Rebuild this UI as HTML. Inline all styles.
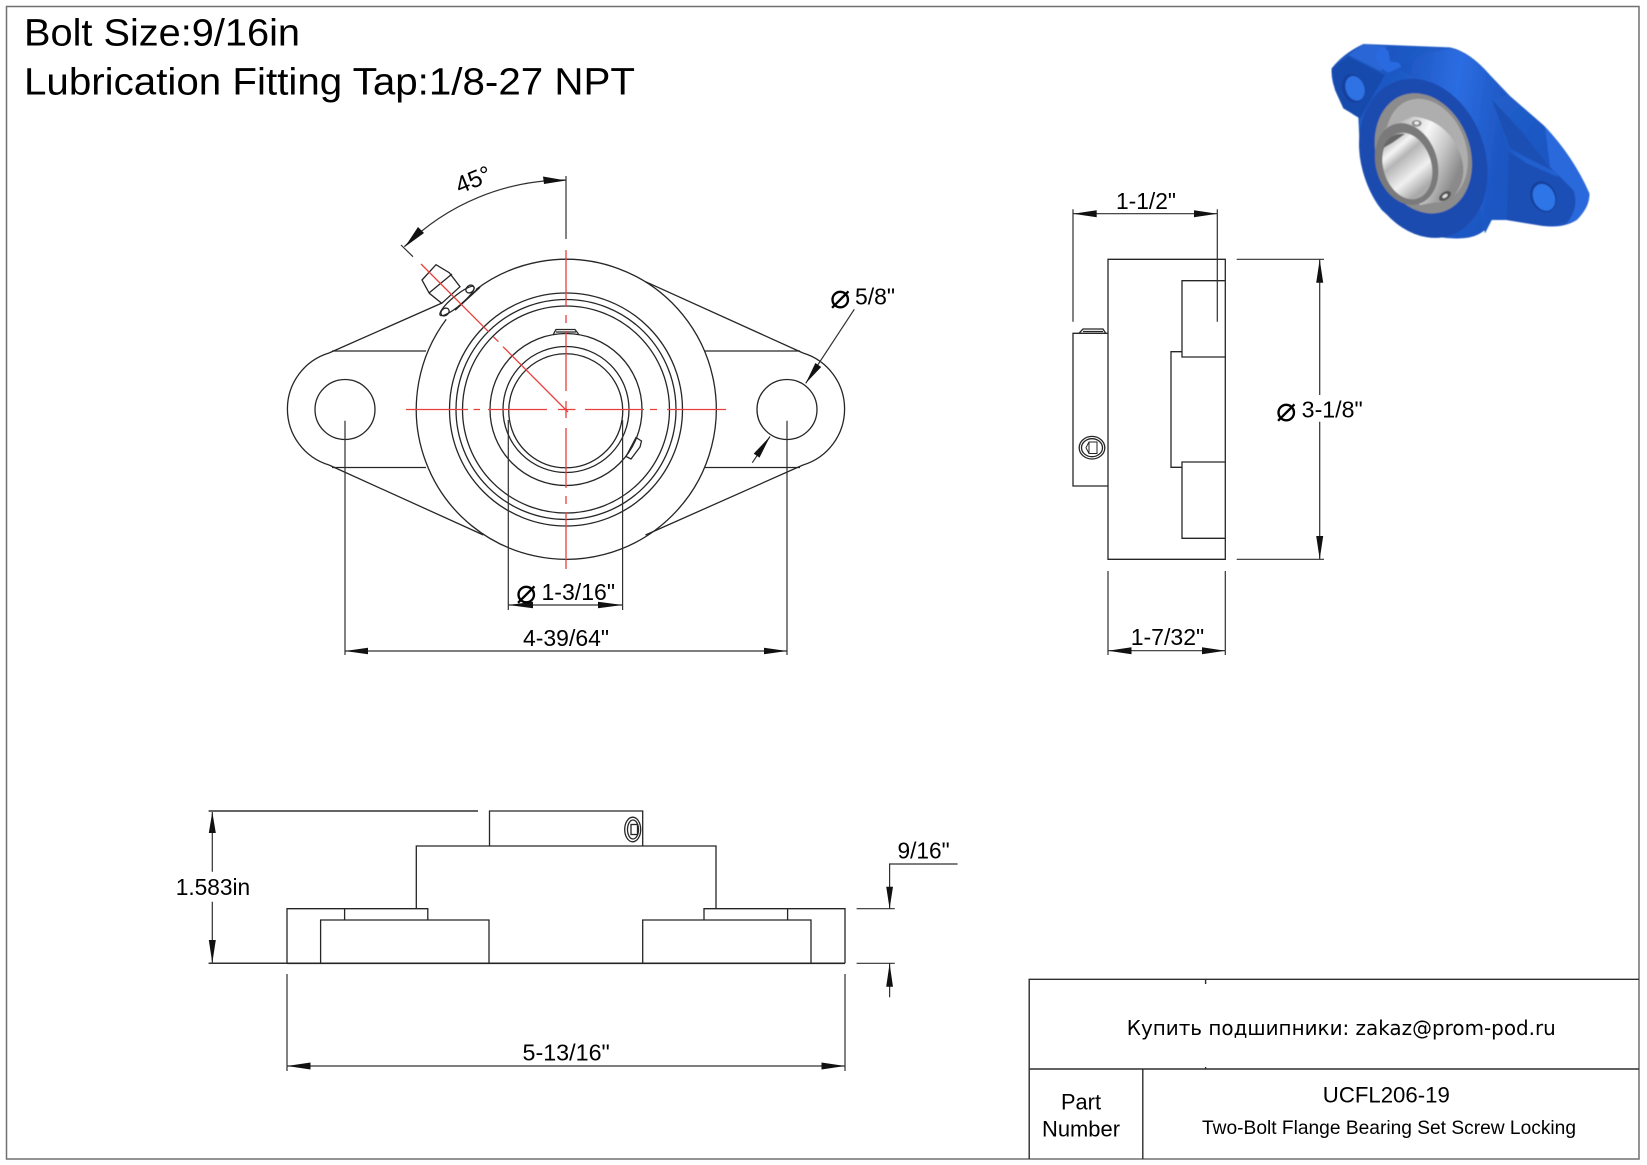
<!DOCTYPE html>
<html><head><meta charset="utf-8"><style>
html,body{margin:0;padding:0;background:#fff}
svg{display:block}
text{font-family:"Liberation Sans",sans-serif;fill:#000}
.l{fill:none;stroke:#262626;stroke-width:1.3}
.k{fill:none;stroke:#303030;stroke-width:1.2}
.r{fill:none;stroke:#e8403c;stroke-width:1.3}
.a{fill:#111;stroke:none}
.d{font-size:23px}
.p{font-family:"DejaVu Sans",sans-serif;font-size:34px;font-weight:200}
</style></head><body>
<svg width="1647" height="1165" viewBox="0 0 1647 1165" xmlns="http://www.w3.org/2000/svg">
<rect width="1647" height="1165" fill="#fff"/>
<rect x="6.5" y="6.5" width="1632.5" height="1152.5" fill="none" stroke="#707070" stroke-width="1.5"/>

<text x="24" y="45.5" font-size="38" textLength="276" lengthAdjust="spacingAndGlyphs">Bolt Size:9/16in</text>
<text x="24" y="94.5" font-size="38" textLength="611" lengthAdjust="spacingAndGlyphs">Lubrication Fitting Tap:1/8-27 NPT</text>

<!-- FRONT VIEW -->
<g class="l">
<path d="M476 289.5A150 150 0 1 1 446.2 319.4"/>
<path d="M329 353A58.5 58.5 0 0 0 329 465"/>
<path d="M803 353A58.5 58.5 0 0 1 803 465"/>
<path d="M329 353L442 303M329 465L483.4 535M645.5 281.7L803 353M645.5 535L803 465"/>
<path d="M332 351H426M332 467.5H426M705 351H800M705 467.5H800"/>
<circle cx="345" cy="409.5" r="30"/>
<circle cx="787" cy="409.5" r="30"/>
<circle cx="566" cy="409.5" r="116.5"/>
<circle cx="566" cy="409.5" r="110"/>
<circle cx="566" cy="409.5" r="103.5"/>
<circle cx="566" cy="409.5" r="76"/>
<circle cx="566" cy="409.5" r="63"/>
<path d="M509.5 420A57 57 0 1 1 622 420"/>
<path d="M509.5 420A57 57 0 0 0 622 420" />
<path d="M553.5 334L556 329.5H575L578.5 334M556 332H576"/>
<path d="M626 456.5L636 437.5L641.5 441L640 447L631 459Z"/>
<path d="M422 280L436 264.7L449.3 272.7L460 286.7L441.7 303.3L429.3 293.3Z"/>
<path d="M452 274L429 293"/>
<ellipse cx="457" cy="301" rx="22" ry="5" transform="rotate(-40 457 301)" fill="#fff"/>
<ellipse cx="470" cy="289" rx="4.5" ry="3.5" transform="rotate(-40 470 289)"/>
<ellipse cx="445" cy="312" rx="4.5" ry="3.5" transform="rotate(-40 445 312)"/>
<path d="M455 310L480 287" stroke-width="1.8"/>
</g>
<g class="r">
<path d="M406 409.5H468M473.5 409.5H480M488 409.5H547M558 409.5H575.5M585 409.5H644M650 409.5H657M667 409.5H726"/>
<path d="M566 250V307M566 315V323M566 331V391M566 401V418M566 428V488M566 496V504M566 512V569"/>
<path d="M421 264L488.5 331.7M493.3 336.7L498.4 341.7M503 346.7L568 412"/>
</g>
<!-- front dims -->
<g class="k">
<path d="M566 176V239"/>
<path d="M566 180A229.5 229.5 0 0 0 404.3 246.7"/>
<path d="M401 245L413 256.7"/>
<path d="M508.3 420V610M622.6 420V610M508.3 605H622.6"/>
<path d="M345 420.7V655M787 420.7V655M345 651H787"/>
<path d="M854.3 309.3L805.7 383.3M752.3 462.7L770 436.5"/>
</g>
<polygon class="a" points="566,180.5 543,176.5 544,184"/>
<polygon class="a" points="405,246.7 418,227 424,233"/>
<polygon class="a" points="508.3,605 533,601.7 533,608.3"/>
<polygon class="a" points="622.6,605 598,601.7 598,608.3"/>
<polygon class="a" points="345,651 368,647.7 368,654.3"/>
<polygon class="a" points="787,651 764,647.7 764,654.3"/>
<polygon class="a" points="805.7,383.3 821.2,367 815.4,363"/>
<polygon class="a" points="770,436.5 759.5,457.6 753.7,453.6"/>
<text transform="translate(459.5 194) rotate(-22)" font-size="24">45°</text>
<text class="p" x="516" y="603">⌀</text>
<text class="d" x="541.5" y="600" textLength="73.5" lengthAdjust="spacingAndGlyphs">1-3/16"</text>
<text class="d" x="523" y="646" textLength="86" lengthAdjust="spacingAndGlyphs">4-39/64"</text>
<text class="p" x="830" y="308">⌀</text>
<text class="d" x="855" y="304.5" textLength="40" lengthAdjust="spacingAndGlyphs">5/8"</text>

<!-- SIDE VIEW -->
<g class="l">
<path d="M1108 259.3H1225.3V559.3H1108Z"/>
<path d="M1225 280.7H1182V357H1225M1182 351.7H1171V467.3H1182M1225 462H1182V538.3H1225"/>
<path d="M1108 333.3H1073V486H1108"/>
<path d="M1079.3 333L1083 329H1103L1105.5 333M1083 331.5H1103"/>
<ellipse cx="1092" cy="447.7" rx="12.8" ry="11.3"/>
<ellipse cx="1092" cy="447.7" rx="10.5" ry="9"/>
<path d="M1086 447.7L1089 442H1097V453.5H1089ZM1089 442V453.5" stroke-width="1"/>
</g>
<g class="k">
<path d="M1073 209.3V321.7M1217.3 209.3V321.7M1073 213.7H1217.3"/>
<path d="M1236.7 259.3H1324M1236.7 559.3H1324M1319.7 259.3V395M1319.7 421.7V559.3"/>
<path d="M1108 571V655M1225.3 571V655M1108 650.7H1225.3"/>
</g>
<polygon class="a" points="1073,213.7 1096.7,210.2 1096.7,217.2"/>
<polygon class="a" points="1217.3,213.7 1194,210.2 1194,217.2"/>
<polygon class="a" points="1319.7,259.5 1316.2,282.7 1323.2,282.7"/>
<polygon class="a" points="1319.7,559.2 1316.2,536 1323.2,536"/>
<polygon class="a" points="1108,650.7 1131.5,647.2 1131.5,654.2"/>
<polygon class="a" points="1225.3,650.7 1202,647.2 1202,654.2"/>
<text class="d" x="1116" y="209" textLength="60" lengthAdjust="spacingAndGlyphs">1-1/2"</text>
<text class="p" x="1276" y="421">⌀</text>
<text class="d" x="1301.7" y="417.3" textLength="61" lengthAdjust="spacingAndGlyphs">3-1/8"</text>
<text class="d" x="1130.7" y="645" textLength="73.5" lengthAdjust="spacingAndGlyphs">1-7/32"</text>

<!-- BOTTOM VIEW -->
<g class="l">
<path d="M489.5 846V811H642.7V846"/>
<path d="M416.3 908.7V846H716V908.7"/>
<path d="M287 963.3V908.7H427.8V920M845 963.3V908.7H704V920M344.6 908.7V920M787.6 908.7V920"/>
<path d="M320.6 963.3V920H489V963.3M642.7 963.3V920H811V963.3"/>
<path d="M845 963.3H287" stroke-width="1.6"/>
<ellipse cx="632.7" cy="829.5" rx="8" ry="12.3"/>
<ellipse cx="633" cy="829.5" rx="5.5" ry="9.5"/>
<rect x="631" y="824.5" width="6.5" height="10"/>
</g>
<g class="k">
<path d="M208.6 811H478M208.6 963.3H287" stroke-width="1.5"/>
<path d="M212.3 812V871.7M212.3 901.7V963"/>
<path d="M287 974V1071M845 974V1071M287 1066H845"/>
<path d="M957.6 864H889.6V908.7M856.6 908.7H894.8M856.6 963.3H894.8M889.6 963.3V997.3"/>
</g>
<polygon class="a" points="212.3,812 208.8,833 215.8,833"/>
<polygon class="a" points="212.3,963 208.8,940 215.8,940"/>
<polygon class="a" points="287,1066 310.5,1062.5 310.5,1069.5"/>
<polygon class="a" points="845,1066 821.5,1062.5 821.5,1069.5"/>
<polygon class="a" points="889.6,908.7 886.2,886.7 893,886.7"/>
<polygon class="a" points="889.6,963.5 886.2,986.7 893,986.7"/>
<text class="d" x="175.7" y="895" textLength="74.5" lengthAdjust="spacingAndGlyphs">1.583in</text>
<text class="d" x="522.5" y="1060.7" textLength="87.3" lengthAdjust="spacingAndGlyphs">5-13/16"</text>
<text class="d" x="897.5" y="858.3" textLength="52.2" lengthAdjust="spacingAndGlyphs">9/16"</text>

<!-- TITLE BLOCK -->
<g fill="none" stroke="#2e2e2e" stroke-width="1.4">
<path d="M1639 979.3H1029.2V1159M1029.2 1069H1639M1142.8 1069V1159M1205.6 979.3V984M1205.6 1067V1069"/>
</g>
<text x="1126.8" y="1035" font-size="20" style="font-family:'DejaVu Sans',sans-serif" textLength="429" lengthAdjust="spacingAndGlyphs">Купить подшипники: zakaz@prom-pod.ru</text>
<text x="1322.8" y="1102.3" font-size="22" textLength="127" lengthAdjust="spacingAndGlyphs">UCFL206-19</text>
<text x="1202" y="1134" font-size="19.5" textLength="374" lengthAdjust="spacingAndGlyphs">Two-Bolt Flange Bearing Set Screw Locking</text>
<text x="1061" y="1109.3" font-size="22.5" textLength="40" lengthAdjust="spacingAndGlyphs">Part</text>
<text x="1042" y="1136.7" font-size="22.5" textLength="78" lengthAdjust="spacingAndGlyphs">Number</text>

<!-- 3D RENDER -->
<defs>
<linearGradient id="bl" x1="0" y1="0" x2="1" y2="0.6">
<stop offset="0" stop-color="#1a4fb8"/><stop offset=".45" stop-color="#2362cf"/><stop offset="1" stop-color="#1b53bd"/>
</linearGradient>
<linearGradient id="cy" x1="0" y1="0" x2="1" y2="0.25">
<stop offset="0" stop-color="#1b52bb"/><stop offset=".55" stop-color="#2c6de2"/><stop offset="1" stop-color="#1d56c2"/>
</linearGradient>
<linearGradient id="sv" x1="0" y1="0" x2="1" y2="0.5">
<stop offset="0" stop-color="#9a9a9a"/><stop offset=".5" stop-color="#f7f7f7"/><stop offset=".75" stop-color="#c6c6c6"/><stop offset="1" stop-color="#8a8a8a"/>
</linearGradient>
<linearGradient id="bo" x1="0" y1="0" x2="0.3" y2="1">
<stop offset="0" stop-color="#8a8a8a"/><stop offset=".3" stop-color="#f5f5f5"/><stop offset=".45" stop-color="#b5b5b5"/><stop offset=".75" stop-color="#f0f0f0"/><stop offset="1" stop-color="#aaa"/>
</linearGradient>
<filter id="bf"><feGaussianBlur stdDeviation="1.4"/></filter>
</defs>
<g transform="translate(1310 20) scale(.33333)" filter="url(#bf)">
<path fill="url(#bl)" d="M65 145Q100 100 160 72L420 82Q480 95 540 165L600 228L700 315Q790 410 838 520Q840 560 800 600Q760 625 700 618L590 600L545 600Q520 660 430 655Q300 650 215 570Q160 500 150 400L145 292Q100 270 80 220Q62 180 65 145Z"/>
<path fill="url(#cy)" d="M260 140L350 100L420 85Q480 98 540 168L590 225L545 240L600 400L590 590L545 600L525 640L480 400L380 220Z"/>
<path fill="#1c4fb3" d="M545 238L640 340L725 450L600 385Z"/>
<path fill="#2260cf" d="M600 390L725 450L770 440L740 470L650 430Z"/>
<path fill="#1b50b6" d="M595 395L650 430L740 470L790 480L800 600L700 618L590 600Z"/>
<path fill="#2a69dc" d="M705 320Q790 410 838 520Q840 560 800 600L770 610Q810 560 790 510L720 440Z"/>
<path fill="#194bad" d="M65 145L115 110L225 165L150 295L100 265L75 210Z"/>
<path fill="#2a66d6" d="M115 105L160 72L230 80L215 155Z"/>
<ellipse cx="340" cy="415" rx="185" ry="245" transform="rotate(-20 340 415)" fill="#1a4cb0"/>
<ellipse cx="130" cy="205" rx="34" ry="44" transform="rotate(-20 130 205)" fill="#14409c"/>
<ellipse cx="135" cy="205" rx="28" ry="38" transform="rotate(-20 135 205)" fill="#2d72e4"/>
<ellipse cx="700" cy="530" rx="38" ry="48" transform="rotate(-25 700 530)" fill="#143f9a"/>
<ellipse cx="702" cy="532" rx="32" ry="42" transform="rotate(-25 702 532)" fill="#2e74e8"/>
<path fill="#2a6be0" d="M195 105L210 82L235 92L240 125L265 128L275 140L235 158L222 150L205 130Z"/>
<ellipse cx="340" cy="400" rx="140" ry="185" transform="rotate(-20 340 400)" fill="#8c8c8c"/>
<ellipse cx="350" cy="392" rx="118" ry="160" transform="rotate(-20 350 392)" fill="#aeaeae"/>
<path fill="url(#sv)" d="M225 325L310 290Q410 300 450 400Q480 480 420 540L330 555L260 480Z"/>
<ellipse cx="290" cy="432" rx="92" ry="125" transform="rotate(-17 290 432)" fill="#7a7a7a"/>
<ellipse cx="292" cy="438" rx="72" ry="102" transform="rotate(-17 292 438)" fill="url(#bo)"/>
<path fill="#666" d="M218 385Q240 335 285 342L248 368Z"/>
<ellipse cx="320" cy="310" rx="15" ry="10" fill="#8a8a8a"/>
<ellipse cx="320" cy="309" rx="7" ry="5" fill="#eee"/>
<ellipse cx="405" cy="528" rx="20" ry="12" transform="rotate(-35 405 528)" fill="#555"/>
<ellipse cx="405" cy="528" rx="9" ry="5" transform="rotate(-35 405 528)" fill="#ddd"/>
</g>
</svg>
</body></html>
